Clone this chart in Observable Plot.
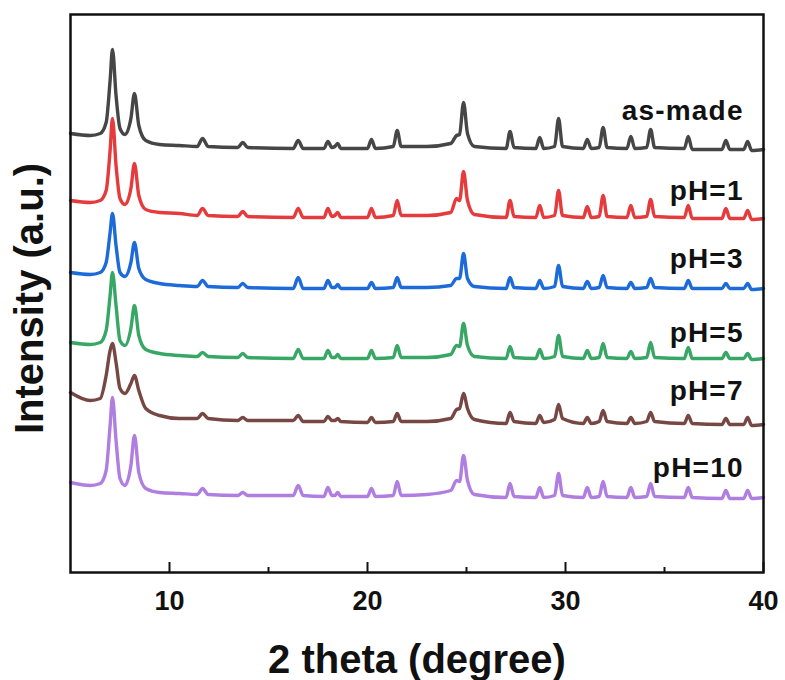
<!DOCTYPE html>
<html>
<head>
<meta charset="utf-8">
<script src="https://cdn.jsdelivr.net/npm/d3@7"></script>
<script src="https://cdn.jsdelivr.net/npm/@observablehq/plot@0.6"></script>
<style>
  html, body { margin: 0; padding: 0; background: #fff; }
  svg { font-family: "Liberation Sans", Arial, sans-serif; }
  g[aria-label="series-label"] text { letter-spacing: 1.2px; }
</style>
</head>
<body>
<div id="chart"></div>
<script>
// 2θ positions (degree) (shared by all samples)
const twoTheta = [5,6.0,6.5,6.8,7.0,7.12,7.3,7.5,7.75, 8.05,8.23,8.45,8.8,9.5,10.5, 11.4,11.67,11.95, 13.45,13.7,13.95, 16.25,16.5,16.75, 17.8,18.0,18.2,18.35,18.5,18.65, 20.0,20.2,20.4, 21.3,21.5,21.7, 23.0,24.2,24.5,24.65,24.85,25.05,25.4, 27.0,27.2,27.4, 28.5,28.7,28.9, 29.45,29.65,29.85, 30.9,31.1,31.3, 31.7,31.9,32.1, 33.1,33.3,33.5, 34.1,34.3,34.5, 36.0,36.2,36.4, 37.9,38.1,38.3, 39.0,39.2,39.4,40];

// sample names and colours
const samples = ["as-made", "pH=1", "pH=3", "pH=5", "pH=7", "pH=10"];
const colors  = ["#464646", "#e63b3c", "#1d6bd8", "#38a766", "#774843", "#b07ee0"];

// vertical stacking offsets (a.u.)
const offsets = [424, 355, 284, 214, 148, 75];

// intensities (a.u., relative to each pattern's baseline)
const asMade = [15,13,15,26,68,99,53,20,14, 30,55,23,8,4,3, 2,10,2, 1,6,1, 0,8,0, 0,7,1,2,5,0, 0,9,0, 2,18,2, 2,5,13,14,46,15,2, 0,17,1, 0,11,0, 2,30,2, 0,9,0, 1,21,1, 0,12,0, 1,19,1, 0,12,-1, -1,8,-1, -1,7,-2,-1];
const pH1    = [17,15,17,27,67,99,52,19,13, 29,54,22,8,5,4, 2,9,2, 1,6,1, 0,9,0, 0,9,1,2,5,0, 0,9,0, 2,17,2, 2,5,19,17,46,17,3, 0,17,1, 0,12,0, 2,27,2, 0,11,0, 1,22,1, 0,12,0, 1,18,1, 0,12,-1, -1,9,-1, -1,7,-2,-1];
const pH3    = [16,14,16,26,56,75,43,16,12, 26,46,20,9,5,3, 2,8,2, 1,5,1, 0,11,0, 0,8,1,1,4,0, 0,6,0, 1,11,1, 1,3,10,10,35,10,2, 0,11,1, 0,8,0, 2,23,2, 0,7,0, 1,13,1, 0,6,0, 1,10,1, 0,8,0, 0,5,0, 0,5,-1,0];
const pH5    = [16,14,16,28,63,86,53,18,13, 30,53,23,9,5,3, 2,6,2, 1,5,1, 0,9,0, 0,8,1,1,4,0, 0,8,0, 1,13,1, 1,4,13,12,35,13,2, 0,12,1, 0,9,0, 2,23,2, 0,8,0, 1,15,1, 0,7,0, 1,16,1, 0,11,0, 0,6,0, 0,5,-1,0];
const pH7    = [32,24,26,49,74,81,62,36,31, 41,49,34,16,9,6, 6,11,6, 4,7,4, 4,9,3, 3,8,4,4,6,3, 2,7,2, 3,11,3, 3,6,15,16,31,16,5, 1,12,3, 1,9,2, 5,20,6, 1,7,1, 3,14,3, 1,7,1, 3,12,3, 1,9,1, 0,6,0, 0,7,-1,0];
const pH10   = [15,12,14,27,72,100,57,19,12, 32,62,25,9,5,4, 3,9,3, 2,5,2, 2,12,2, 1,10,2,2,5,1, 1,9,1, 2,16,2, 3,7,17,16,42,17,3, 0,14,1, 0,10,0, 2,24,2, 0,10,0, 1,16,1, 0,10,0, 1,14,1, 0,10,0, -1,7,-1, -1,7,-1,0];

// label positions (2θ, a.u.)
const labelX = 39.0;
const labelY = [461, 381, 313, 239, 181, 104];

// x axis ticks
const majorTicks = [10, 20, 30, 40];
const minorTicks = [15, 25, 35];

const seriesValues = [asMade, pH1, pH3, pH5, pH7, pH10];
const rows = [];
samples.forEach((name, s) => {
  seriesValues[s].forEach((v, i) => {
    rows.push({sample: name, x: twoTheta[i], y: offsets[s] + v});
  });
});
const labels = samples.map((name, s) => ({sample: name, x: labelX, y: labelY[s]}));

const FRAME_H = 558;

const chart = Plot.plot({
  width: 785,
  height: 680,
  marginLeft: 70,
  marginRight: 22,
  marginTop: 14,
  marginBottom: 108,
  style: {fontFamily: "'Liberation Sans', Arial, sans-serif", background: "#fff"},
  x: {domain: [5, 40], axis: null},
  y: {domain: [0, FRAME_H], axis: null},
  color: {domain: samples, range: colors},
  marks: [
    Plot.line(rows, {x: "x", y: "y", z: "sample", stroke: "sample", strokeWidth: 3.4, strokeLinejoin: "round", strokeLinecap: "round", curve: "monotone-x"}),
    Plot.text(labels, {x: "x", y: "y", text: "sample", textAnchor: "end", lineAnchor: "middle", fontSize: 28, fontWeight: "bold", fill: "#111"}),
    Plot.tickX(majorTicks, {x: d => d, insetTop: FRAME_H - 10, stroke: "#111", strokeWidth: 2}),
    Plot.tickX(minorTicks, {x: d => d, insetTop: FRAME_H - 5, stroke: "#111", strokeWidth: 2}),
    Plot.text(majorTicks, {x: d => d, frameAnchor: "bottom", lineAnchor: "middle", textAnchor: "middle", dy: 29, text: d => String(d), fontSize: 27, fontWeight: "bold", fill: "#111"}),
    Plot.text(["2 theta (degree)"], {frameAnchor: "bottom", lineAnchor: "middle", textAnchor: "middle", dy: 88, text: d => d, fontSize: 40, fontWeight: "bold", fill: "#111"}),
    Plot.text(["Intensity (a.u.)"], {frameAnchor: "left", lineAnchor: "middle", textAnchor: "middle", dx: -40, dy: 5, rotate: -90, text: d => d, fontSize: 40, fontWeight: "bold", fill: "#111"}),
    Plot.frame({stroke: "#111", strokeWidth: 2.5})
  ]
});

// widen the sample labels slightly (letter spacing) to match the reference
d3.select(chart).selectAll("g[aria-label='text']").filter((d, i, nodes) => {
  return d3.select(nodes[i]).selectAll("text").size() === samples.length;
}).attr("aria-label", "series-label");

document.getElementById("chart").appendChild(chart);
</script>
</body>
</html>
